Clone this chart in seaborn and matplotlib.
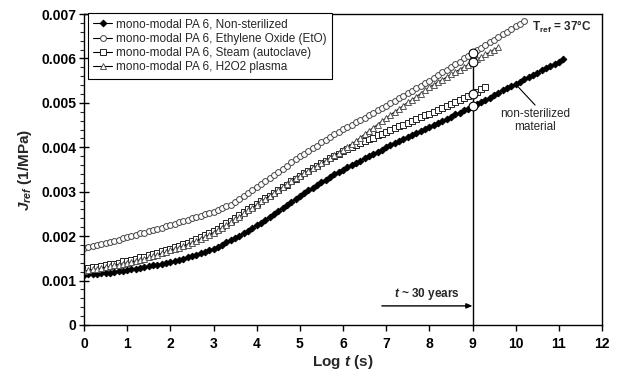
import numpy as np
import pandas as pd
import matplotlib
matplotlib.use("Agg")
import matplotlib.pyplot as plt
import seaborn as sns

# ---------------- data (J in 1e-3 1/MPa) ----------------
step = 0.1
non_sterilized = [
    1.13, 1.14, 1.15, 1.15, 1.16, 1.17, 1.18, 1.20, 1.21, 1.22,
    1.24, 1.25, 1.27, 1.28, 1.30, 1.32, 1.34, 1.36, 1.38, 1.40,
    1.42, 1.44, 1.47, 1.49, 1.52, 1.55, 1.58, 1.61, 1.65, 1.68,
    1.72, 1.76, 1.81, 1.86, 1.91, 1.96, 2.01, 2.07, 2.12, 2.18,
    2.24, 2.30, 2.37, 2.43, 2.50, 2.57, 2.63, 2.70, 2.77, 2.83,
    2.90, 2.96, 3.03, 3.09, 3.15, 3.21, 3.27, 3.33, 3.39, 3.44,
    3.50, 3.55, 3.60, 3.65, 3.70, 3.75, 3.80, 3.85, 3.90, 3.95,
    4.00, 4.05, 4.09, 4.14, 4.18, 4.23, 4.28, 4.32, 4.37, 4.41,
    4.46, 4.51, 4.55, 4.60, 4.64, 4.69, 4.74, 4.78, 4.83, 4.87,
    4.92, 4.97, 5.02, 5.07, 5.12, 5.17, 5.23, 5.28, 5.33, 5.38,
    5.43, 5.48, 5.53, 5.58, 5.63, 5.68, 5.73, 5.78, 5.83, 5.88,
    5.93, 5.98]
ethylene_oxide = [
    1.74, 1.76, 1.78, 1.80, 1.83, 1.85, 1.87, 1.90, 1.92, 1.95,
    1.97, 2.00, 2.03, 2.06, 2.08, 2.11, 2.14, 2.17, 2.19, 2.22,
    2.25, 2.28, 2.31, 2.34, 2.37, 2.40, 2.43, 2.46, 2.49, 2.52,
    2.55, 2.59, 2.63, 2.67, 2.71, 2.77, 2.83, 2.90, 2.96, 3.03,
    3.10, 3.17, 3.24, 3.31, 3.38, 3.45, 3.52, 3.59, 3.66, 3.73,
    3.80, 3.86, 3.92, 3.98, 4.04, 4.11, 4.17, 4.23, 4.29, 4.35,
    4.41, 4.46, 4.51, 4.57, 4.62, 4.67, 4.72, 4.77, 4.83, 4.88,
    4.93, 4.99, 5.04, 5.10, 5.16, 5.22, 5.27, 5.33, 5.39, 5.44,
    5.50, 5.56, 5.62, 5.69, 5.75, 5.81, 5.87, 5.93, 6.00, 6.06,
    6.12, 6.18, 6.24, 6.30, 6.36, 6.42, 6.48, 6.54, 6.60, 6.66,
    6.72, 6.78, 6.84]
steam = [
    1.27, 1.28, 1.30, 1.31, 1.33, 1.35, 1.37, 1.38, 1.40, 1.43,
    1.45, 1.47, 1.49, 1.52, 1.54, 1.57, 1.60, 1.63, 1.66, 1.69,
    1.72, 1.75, 1.78, 1.82, 1.85, 1.89, 1.93, 1.98, 2.02, 2.07,
    2.12, 2.17, 2.23, 2.29, 2.35, 2.41, 2.47, 2.54, 2.60, 2.66,
    2.73, 2.79, 2.85, 2.91, 2.98, 3.04, 3.10, 3.16, 3.23, 3.29,
    3.35, 3.41, 3.47, 3.53, 3.58, 3.64, 3.70, 3.75, 3.81, 3.86,
    3.91, 3.96, 4.00, 4.05, 4.09, 4.14, 4.18, 4.22, 4.27, 4.31,
    4.35, 4.39, 4.43, 4.47, 4.51, 4.55, 4.60, 4.64, 4.68, 4.72,
    4.76, 4.80, 4.85, 4.89, 4.94, 4.98, 5.02, 5.07, 5.11, 5.16,
    5.20, 5.25, 5.31, 5.36]
h2o2_plasma = [
    1.22, 1.23, 1.25, 1.26, 1.28, 1.30, 1.32, 1.34, 1.36, 1.38,
    1.40, 1.42, 1.44, 1.47, 1.49, 1.52, 1.55, 1.58, 1.61, 1.64,
    1.68, 1.71, 1.74, 1.78, 1.81, 1.85, 1.89, 1.94, 1.98, 2.03,
    2.08, 2.13, 2.19, 2.25, 2.31, 2.38, 2.44, 2.51, 2.58, 2.64,
    2.71, 2.78, 2.84, 2.91, 2.97, 3.04, 3.10, 3.17, 3.23, 3.30,
    3.36, 3.42, 3.47, 3.53, 3.59, 3.64, 3.70, 3.76, 3.82, 3.87,
    3.93, 4.00, 4.07, 4.14, 4.22, 4.29, 4.37, 4.44, 4.51, 4.59,
    4.66, 4.73, 4.80, 4.87, 4.94, 5.01, 5.07, 5.14, 5.21, 5.28,
    5.35, 5.41, 5.47, 5.52, 5.58, 5.64, 5.69, 5.75, 5.81, 5.86,
    5.92, 5.98, 6.03, 6.09, 6.14, 6.20, 6.25]

labels = ["mono-modal PA 6, Non-sterilized",
          "mono-modal PA 6, Ethylene Oxide (EtO)",
          "mono-modal PA 6, Steam (autoclave)",
          "mono-modal PA 6, H2O2 plasma"]
x_ticks = list(range(0, 13))
y_ticks = [0, 0.001, 0.002, 0.003, 0.004, 0.005, 0.006, 0.007]
y_tick_labels = ["0", "0.001", "0.002", "0.003", "0.004", "0.005", "0.006", "0.007"]
t_30_years = 9.0

series = [non_sterilized, ethylene_oxide, steam, h2o2_plasma]
frames = []
for lab, vals in zip(labels, series):
    n = len(vals)
    frames.append(pd.DataFrame({"logt": np.round(np.arange(n) * step, 1),
                                "J": np.array(vals) * 1e-3,
                                "series": lab}))
df = pd.concat(frames, ignore_index=True)

# ---------------- style ----------------
sns.set_style("ticks")
plt.rcParams["font.family"] = ["Liberation Sans", "DejaVu Sans"]
plt.rcParams["mathtext.fontset"] = "custom"
plt.rcParams["mathtext.rm"] = "Liberation Sans:bold"
plt.rcParams["mathtext.it"] = "Liberation Sans:italic:bold"
plt.rcParams["mathtext.bf"] = "Liberation Sans:bold"

fig = plt.figure(figsize=(6.19, 3.72), dpi=100)
ax = fig.add_axes([84 / 619, 47 / 372, 518 / 619, 311 / 372])

styles = [
    dict(marker="D", markersize=3.4, markerfacecolor="black", markeredgecolor="black"),
    dict(marker="o", markersize=4.2, markerfacecolor="white", markeredgecolor="#444444"),
    dict(marker="s", markersize=3.9, markerfacecolor="white", markeredgecolor="#222222"),
    dict(marker="^", markersize=4.4, markerfacecolor="white", markeredgecolor="#555555"),
]
for lab, st in zip(labels, styles):
    sub = df[df["series"] == lab]
    sns.lineplot(data=sub, x="logt", y="J", ax=ax, color="black", linewidth=0.8,
                 markeredgewidth=0.7, label=lab, estimator=None, **st)

# vertical line at t ~ 30 years and the intersection circles
at9 = df[np.isclose(df["logt"], t_30_years)]
ax.plot([t_30_years, t_30_years], [0, at9["J"].max()], color="black", lw=1.0, zorder=4)
ax.scatter(at9["logt"], at9["J"], s=40, facecolor="white", edgecolor="black",
           linewidth=0.8, zorder=5)

# axes
ax.set_xlim(0, 12)
ax.set_ylim(0, 0.007)
ax.set_xticks(x_ticks)
ax.set_xticklabels([str(v) for v in x_ticks])
ax.set_yticks(y_ticks)
ax.set_yticklabels(y_tick_labels)
ax.set_yticks(np.arange(0, 0.00701, 0.0002), minor=True)
for lbl in ax.get_xticklabels() + ax.get_yticklabels():
    lbl.set_fontweight("bold")
ax.tick_params(axis="both", labelsize=10, colors="black", width=1.0)
ax.tick_params(axis="x", direction="out", length=4, pad=5)
ax.tick_params(axis="y", which="major", direction="inout", length=7, pad=2)
ax.tick_params(axis="y", which="minor", direction="out", length=3, width=0.8)
for sp in ax.spines.values():
    sp.set_visible(True)
    sp.set_color("black")
    sp.set_linewidth(1.0)

ax.set_xlabel(r"Log $t$ (s)", fontsize=11, fontweight="bold", labelpad=1)
ax.set_ylabel(r"$J_{ref}$ (1/MPa)", fontsize=11, fontweight="bold", labelpad=5)

# annotations
ax.text(10.38, 0.0067, r"$\mathrm{T_{ref}}$ = 37°C", fontsize=8.5, fontweight="bold",
        ha="left", va="center")
ax.annotate("", xy=(10.0, 0.00542), xytext=(10.45, 0.00495),
            arrowprops=dict(arrowstyle="-", color="black", lw=0.8,
                            shrinkA=0, shrinkB=0))
ax.text(10.45, 0.0046, "non-sterilized\nmaterial", fontsize=8.5, ha="center",
        va="center", linespacing=1.1)
ax.annotate("", xy=(t_30_years, 0.00043), xytext=(6.9, 0.00043),
            arrowprops=dict(arrowstyle="-|>,head_length=0.35,head_width=0.15",
                            color="black", lw=1.0, shrinkA=0, shrinkB=0))
ax.text(7.95, 0.0007, r"$t$ ~ 30 years", fontsize=8.5, fontweight="bold",
        ha="center", va="center")

leg = ax.legend(loc="upper left", bbox_to_anchor=(0.008, 1.003), borderaxespad=0,
                fontsize=8.5, frameon=True, fancybox=False, edgecolor="black",
                framealpha=1, handlelength=1.6, handletextpad=0.3,
                labelspacing=0.2, borderpad=0.45)
leg.get_frame().set_linewidth(0.8)

fig.savefig("out.png", dpi=100)
